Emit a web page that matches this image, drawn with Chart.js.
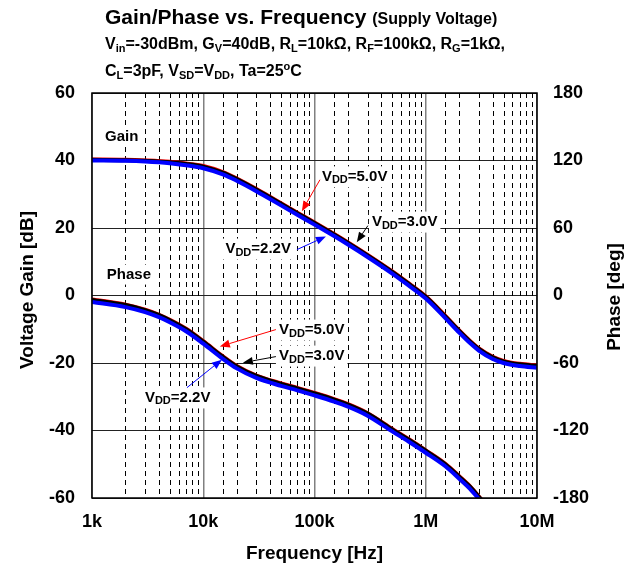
<!DOCTYPE html>
<html>
<head>
<meta charset="utf-8">
<script src="https://cdn.jsdelivr.net/npm/chart.js@4.4.1/dist/chart.umd.min.js"></script>
<style>
  html, body { margin: 0; padding: 0; background: #fff; }
  #wrap { position: relative; width: 640px; height: 573px; }
  .hd { position: absolute; left: 105px; font-family: 'Liberation Sans', Arial, sans-serif; font-weight: bold; color: #000; white-space: nowrap; line-height: 1; }
  .hd sub { font-size: 11px; vertical-align: -3px; line-height: 0; }
  .hd sup { font-size: 11px; vertical-align: 6px; line-height: 0; }
  #t1 { top: 6px; font-size: 21px; }
  #t1 span { font-size: 16px; }
  #t2 { top: 36px; font-size: 16px; }
  #t3 { top: 63px; font-size: 16px; }
</style>
</head>
<body>
<div id="wrap">
  <canvas id="chart" width="640" height="573"></canvas>
  <div class="hd" id="t1">Gain/Phase vs. Frequency <span>(Supply Voltage)</span></div>
  <div class="hd" id="t2">V<sub>in</sub>=-30dBm, G<sub>V</sub>=40dB, R<sub>L</sub>=10kΩ, R<sub>F</sub>=100kΩ, R<sub>G</sub>=1kΩ,</div>
  <div class="hd" id="t3">C<sub>L</sub>=3pF, V<sub>SD</sub>=V<sub>DD</sub>, Ta=25<sup>o</sup>C</div>
</div>
<script>
// gain curves (dB) vs frequency (Hz)
const freqs = [1e3, 2e3, 3e3, 5e3, 7e3, 1e4, 1.5e4, 2e4, 3e4, 5e4, 7e4, 1e5, 1.5e5, 2e5, 3e5, 5e5, 7e5, 1e6, 1.5e6, 2e6, 2.5e6, 3e6, 4e6, 5e6, 7e6, 1e7];
const gain50 = [40.3, 40.2, 40.0, 39.6, 39.1, 38.35, 36.55, 34.65, 31.55, 27.35, 24.55, 21.65, 18.25, 15.75, 12.05, 7.15, 3.65, -0.25, -6.05, -10.35, -13.45, -15.65, -18.15, -19.35, -20.25, -20.75];
const gain30 = [40.2, 40.1, 39.9, 39.5, 39.0, 38.2, 36.4, 34.5, 31.4, 27.2, 24.4, 21.5, 18.1, 15.6, 11.9, 7.0, 3.5, -0.4, -6.2, -10.5, -13.6, -15.8, -18.3, -19.5, -20.4, -20.9];
const gain22 = [40.0, 39.9, 39.7, 39.2, 38.6, 37.7, 35.9, 34.0, 30.9, 26.7, 23.9, 21.0, 17.6, 15.1, 11.4, 6.5, 3.0, -0.9, -6.7, -11.0, -14.1, -16.3, -18.8, -20.0, -20.9, -21.4];

// phase curves (deg)
const phaseFreqs = [1e3, 2e3, 3e3, 4e3, 5e3, 7e3, 1e4, 1.5e4, 2e4, 3e4, 5e4, 7e4, 1e5, 1.5e5, 2e5, 3e5, 5e5, 7e5, 1e6, 1.5e6, 2e6, 2.5e6, 3e6, 3.5e6];
const phase50 = [-3.6, -8.1, -12.6, -17.1, -21.6, -29.6, -40.6, -54.1, -62.6, -71.1, -78.1, -82.1, -86.6, -92.1, -96.6, -104.6, -118.6, -127.6, -137.6, -149.6, -160.6, -169.6, -178.6, -186.6];
const phase30 = [-4, -8.5, -13, -17.5, -22, -30, -41, -54.5, -63, -71.5, -78.5, -82.5, -87, -92.5, -97, -105, -119, -128, -138, -150, -161, -170, -179, -187];
const phase22 = [-5.8, -10.3, -14.8, -19.3, -23.8, -31.8, -42.8, -56.3, -64.8, -73.3, -80.3, -84.3, -88.8, -94.3, -98.8, -106.8, -120.8, -129.8, -139.8, -151.8, -162.8, -171.8, -180.8, -188.8];

const decades = [1e3, 1e4, 1e5, 1e6, 1e7];
const decadeLabels = ['1k', '10k', '100k', '1M', '10M'];

// callouts: label anchor, arrow start, arrow tip, all in [Hz, dB]
const notes = [
  { parts: ['V', 'DD', '=5.0V'], color: '#ff0000', align: 'left',  at: [116500, 35.3], from: [112000, 34.3], to: [77000, 25.0] },
  { parts: ['V', 'DD', '=3.0V'], color: '#000000', align: 'left',  at: [328000, 21.9], from: [302000, 20.7], to: [240000, 15.8] },
  { parts: ['V', 'DD', '=2.2V'], color: '#0000ff', align: 'right', at: [61400, 13.9],  from: [69500, 13.6],  to: [126600, 17.5] },
  { parts: ['V', 'DD', '=5.0V'], color: '#ff0000', align: 'left',  at: [47900, -10.1], from: [45000, -10.1], to: [14100, -15.1] },
  { parts: ['V', 'DD', '=3.0V'], color: '#000000', align: 'left',  at: [47900, -17.8], from: [45000, -18.1], to: [22700, -19.9] },
  { parts: ['V', 'DD', '=2.2V'], color: '#0000ff', align: 'left',  at: [2990, -30.2],  from: [7140, -27.3],  to: [14700, -19.0] }
];
const sectionLabels = [
  { text: 'Gain',  at: [1310, 47.0] },
  { text: 'Phase', at: [1360, 6.2] }
];

const FONT = "'Liberation Sans', Arial, sans-serif";

function isDecade(v) {
  const l = Math.log10(v);
  return Math.abs(l - Math.round(l)) < 1e-9;
}

function pts(xs, ys) {
  return xs.map((f, i) => ({ x: f, y: ys[i] }));
}

function drawTag(ctx, x, y, parts, align) {
  const main = 'bold 15px ' + FONT;
  const small = 'bold 11px ' + FONT;
  const widths = parts.map((p, i) => {
    ctx.font = i === 1 ? small : main;
    return ctx.measureText(p).width;
  });
  const total = widths.reduce((a, b) => a + b, 0);
  let x0 = align === 'right' ? x - total : x;
  ctx.fillStyle = '#fff';
  ctx.fillRect(x0 - 3, y - 10, total + 6, 21);
  ctx.fillStyle = '#000';
  ctx.textBaseline = 'middle';
  ctx.textAlign = 'left';
  parts.forEach((p, i) => {
    ctx.font = i === 1 ? small : main;
    ctx.fillText(p, x0, i === 1 ? y + 4 : y);
    x0 += widths[i];
  });
}

function drawArrow(ctx, x1, y1, x2, y2, color) {
  const ang = Math.atan2(y2 - y1, x2 - x1);
  const len = 10, half = 4;
  const bx = x2 - len * Math.cos(ang), by = y2 - len * Math.sin(ang);
  ctx.strokeStyle = color;
  ctx.fillStyle = color;
  ctx.lineWidth = 1;
  ctx.beginPath();
  ctx.moveTo(x1, y1);
  ctx.lineTo(bx, by);
  ctx.stroke();
  ctx.beginPath();
  ctx.moveTo(x2, y2);
  ctx.lineTo(bx - half * Math.sin(ang), by + half * Math.cos(ang));
  ctx.lineTo(bx + half * Math.sin(ang), by - half * Math.cos(ang));
  ctx.closePath();
  ctx.fill();
}

const overlay = {
  id: 'overlay',
  beforeDatasetsDraw(chart) {
    const { ctx, chartArea: a, scales: { x } } = chart;
    ctx.save();
    ctx.strokeStyle = '#000';
    ctx.lineWidth = 1;
    ctx.setLineDash([5, 4]);
    x.ticks.forEach(t => {
      if (isDecade(t.value)) return;
      const px = Math.round(x.getPixelForValue(t.value)) + 0.5;
      ctx.beginPath();
      ctx.moveTo(px, a.top);
      ctx.lineTo(px, a.bottom);
      ctx.stroke();
    });
    ctx.restore();
  },
  afterDatasetsDraw(chart) {
    const { ctx, chartArea: a, scales: { x, y } } = chart;
    ctx.save();
    // plot frame
    ctx.strokeStyle = '#000';
    ctx.lineWidth = 1.5;
    ctx.strokeRect(a.left, a.top, a.right - a.left, a.bottom - a.top);

    sectionLabels.forEach(s => {
      const px = x.getPixelForValue(s.at[0]), py = y.getPixelForValue(s.at[1]);
      ctx.font = 'bold 15px ' + FONT;
      const w = ctx.measureText(s.text).width;
      ctx.fillStyle = '#fff';
      ctx.fillRect(px - 2, py - 10, w + 4, 20);
      ctx.fillStyle = '#000';
      ctx.textBaseline = 'middle';
      ctx.textAlign = 'left';
      ctx.fillText(s.text, px, py);
    });

    notes.forEach(n => {
      drawTag(ctx, x.getPixelForValue(n.at[0]), y.getPixelForValue(n.at[1]), n.parts, n.align);
      drawArrow(ctx,
        x.getPixelForValue(n.from[0]), y.getPixelForValue(n.from[1]),
        x.getPixelForValue(n.to[0]), y.getPixelForValue(n.to[1]), n.color);
    });

    // vertical axis titles, both reading bottom to top
    ctx.fillStyle = '#000';
    ctx.font = 'bold 19px ' + FONT;
    ctx.textAlign = 'center';
    ctx.textBaseline = 'middle';
    ctx.save();
    ctx.translate(28, 290);
    ctx.rotate(-Math.PI / 2);
    ctx.fillText('Voltage Gain [dB]', 0, 0);
    ctx.restore();
    ctx.save();
    ctx.translate(615, 297);
    ctx.rotate(-Math.PI / 2);
    ctx.fillText('Phase [deg]', 0, 0);
    ctx.restore();
    ctx.restore();
  }
};

const tickFont = { family: FONT, size: 18, weight: 'bold' };
const line = (label, data, color, axis, order) => ({
  label, data, borderColor: color, backgroundColor: color, borderWidth: 4,
  pointRadius: 0, cubicInterpolationMode: 'monotone', yAxisID: axis, order
});

new Chart(document.getElementById('chart').getContext('2d'), {
  type: 'line',
  data: {
    datasets: [
      line('Gain VDD=2.2V', pts(freqs, gain22), '#0000ff', 'y', 0),
      line('Gain VDD=3.0V', pts(freqs, gain30), '#000000', 'y', 1),
      line('Gain VDD=5.0V', pts(freqs, gain50), '#ff0000', 'y', 2),
      line('Phase VDD=2.2V', pts(phaseFreqs, phase22), '#0000ff', 'y1', 0),
      line('Phase VDD=3.0V', pts(phaseFreqs, phase30), '#000000', 'y1', 1),
      line('Phase VDD=5.0V', pts(phaseFreqs, phase50), '#ff0000', 'y1', 2)
    ]
  },
  options: {
    responsive: false,
    animation: false,
    layout: { padding: { top: 93, left: 0, right: 0, bottom: 0 } },
    plugins: { legend: { display: false }, tooltip: { enabled: false } },
    scales: {
      x: {
        type: 'logarithmic',
        min: 1e3,
        max: 1e7,
        afterFit: s => { s.height = 75; },
        grid: {
          drawTicks: false,
          color: c => (c.tick && isDecade(c.tick.value)) ? '#808080' : 'rgba(0,0,0,0)',
          lineWidth: 1.5
        },
        border: { display: false },
        ticks: {
          autoSkip: false,
          maxRotation: 0,
          padding: 13,
          color: '#000',
          font: tickFont,
          callback: v => {
            const i = decades.indexOf(v);
            return i >= 0 ? decadeLabels[i] : '';
          }
        },
        title: {
          display: true,
          text: 'Frequency [Hz]',
          color: '#000',
          font: { family: FONT, size: 19, weight: 'bold' },
          padding: { top: 0, bottom: 8 }
        }
      },
      y: {
        position: 'left',
        min: -60,
        max: 60,
        afterFit: s => { s.width = 92; },
        grid: { drawTicks: false, color: '#222', lineWidth: 1 },
        border: { display: false },
        ticks: { stepSize: 20, padding: 17, color: '#000', font: tickFont }
      },
      y1: {
        position: 'right',
        min: -180,
        max: 180,
        afterFit: s => { s.width = 103; },
        grid: { drawTicks: false, drawOnChartArea: false },
        border: { display: false },
        ticks: { stepSize: 60, padding: 16, color: '#000', font: tickFont }
      }
    }
  },
  plugins: [overlay]
});
</script>
</body>
</html>
